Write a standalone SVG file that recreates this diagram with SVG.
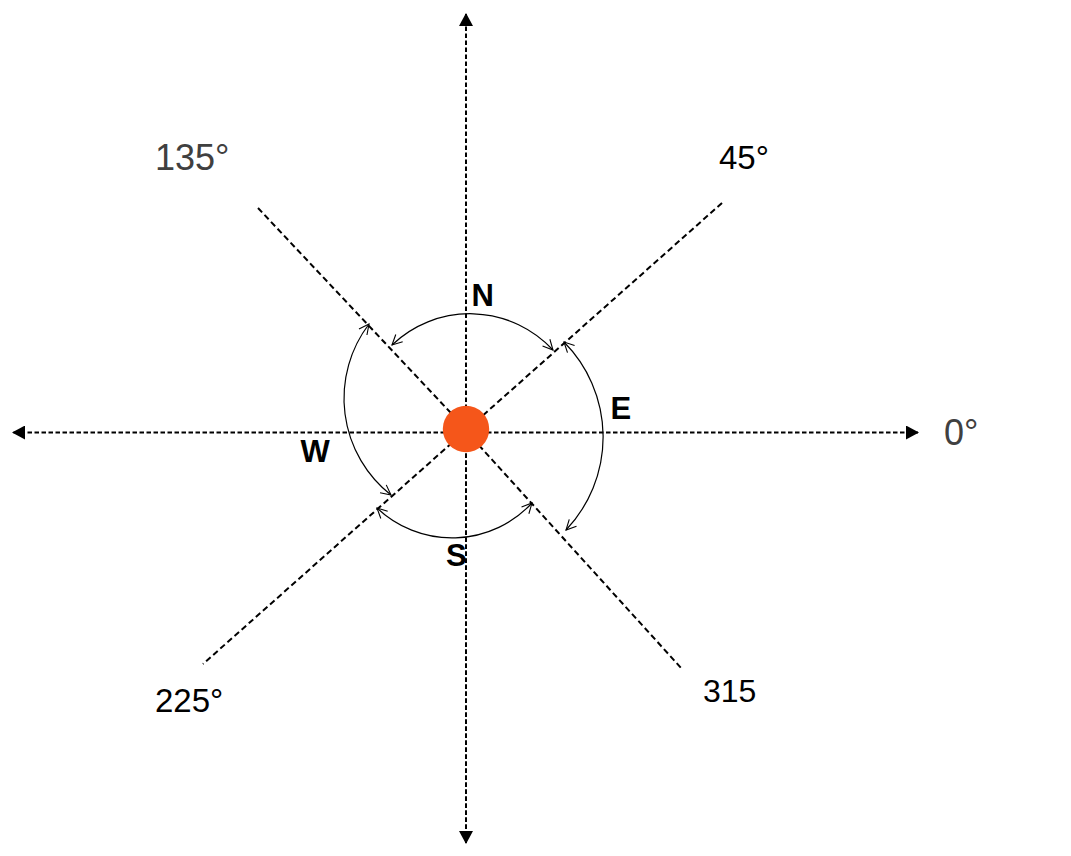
<svg xmlns="http://www.w3.org/2000/svg" width="1071" height="856" viewBox="0 0 1071 856">
<style>
.axis{stroke:#000;stroke-width:2;stroke-dasharray:4.5 2.5;fill:none}
.diag{stroke:#000;stroke-width:2;stroke-dasharray:6 3.5;fill:none}
.arc{stroke:#000;stroke-width:1.2;fill:none;marker-start:url(#open);marker-end:url(#open)}
.lbl{font-family:"Liberation Sans",Arial,sans-serif}
.grey{fill:#404040;font-size:36px}
.blk{fill:#000;font-size:33px}
.dir{fill:#000;font-size:31px;font-weight:bold}
</style>
<defs>
<marker id="solid" viewBox="0 0 13 14" refX="12" refY="7" markerWidth="13" markerHeight="14" markerUnits="userSpaceOnUse" orient="auto">
<path d="M0,0 L13,7 L0,14 Z" fill="#000"/>
</marker>
<marker id="open" viewBox="0 0 12 12" refX="11" refY="6" markerWidth="12" markerHeight="12" markerUnits="userSpaceOnUse" orient="auto-start-reverse">
<path d="M1,1 L11,6 L1,11" fill="none" stroke="#000" stroke-width="1.1"/>
</marker>
</defs>
<rect width="1071" height="856" fill="#fff"/>
<g id="connectors">
<line class="axis" x1="466" y1="843" x2="466" y2="14" marker-end="url(#solid)"/>
<line class="axis" x1="466" y1="432.5" x2="466" y2="843" marker-end="url(#solid)"/>
<line class="axis" x1="466" y1="432.5" x2="13" y2="432.5" marker-end="url(#solid)"/>
<line class="axis" x1="466" y1="432.5" x2="918" y2="432.5" marker-end="url(#solid)"/>
<line class="diag" x1="258" y1="208" x2="466" y2="429"/>
<line class="diag" x1="466" y1="431" x2="682" y2="669"/>
<line class="diag" x1="722" y1="203" x2="203" y2="664"/>
<path class="arc" d="M392,345 A113,113 0 0 1 553,350"/>
<path class="arc" d="M564,342 A135,135 0 0 1 566,530"/>
<path class="arc" d="M369,324 A123,123 0 0 0 391,495"/>
<path class="arc" d="M377,508 A109,109 0 0 0 532,503"/>
</g>
<g id="center">
<circle cx="466" cy="429" r="23.2" fill="#F5561A"/>
</g>
<g id="labels">
<text class="lbl grey" x="155" y="169.5">135°</text>
<text class="lbl blk" x="719" y="169">45°</text>
<text class="lbl grey" x="944" y="445">0°</text>
<text class="lbl blk" x="155" y="711.5">225°</text>
<text class="lbl blk" x="703" y="701.5" style="font-size:32px">315</text>
<text class="lbl dir" x="471.5" y="306">N</text>
<text class="lbl dir" x="300.5" y="461.5">W</text>
<text class="lbl dir" x="610.5" y="419">E</text>
<text class="lbl dir" x="446" y="566">S</text>
</g>
</svg>
